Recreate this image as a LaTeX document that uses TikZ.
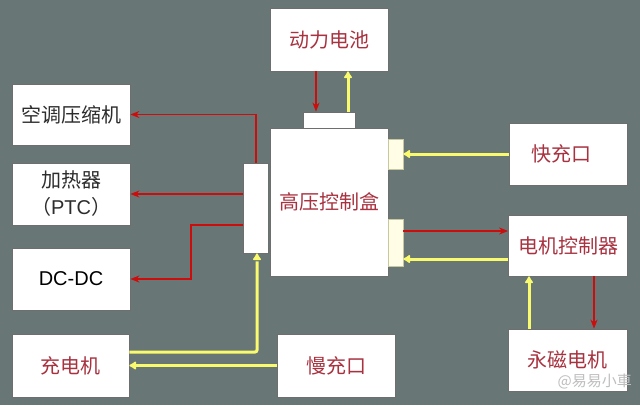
\documentclass[tikz,border=0pt]{standalone}
\usepackage{fontspec}
\setmainfont{Liberation Sans}
\newfontfamily\cjk{Noto Sans CJK SC}
\usetikzlibrary{arrows.meta,calc}
\definecolor{bg}{RGB}{104,118,118}
\definecolor{dred}{RGB}{168,50,64}
\definecolor{dgray}{RGB}{45,45,45}
\definecolor{ared}{RGB}{205,12,12}
\definecolor{ayel}{RGB}{250,250,110}
\definecolor{bord}{RGB}{110,110,110}
\definecolor{cream}{RGB}{255,253,230}
\definecolor{creambord}{RGB}{200,200,160}
\definecolor{wmgray}{RGB}{190,190,190}
\begin{document}
\begin{tikzpicture}[x=1pt,y=-1pt,
  box/.style={draw=bord, line width=0.8pt, fill=white, inner sep=0pt, align=center,
    font=\cjk\fontsize{20}{27}\selectfont, text=dred},
  conn/.style={draw=bord, line width=0.8pt, fill=white, inner sep=0pt},
  cconn/.style={draw=creambord, line width=0.8pt, fill=cream, inner sep=0pt},
  redarr/.style={draw=ared, line width=1.6pt, -{Stealth[length=9pt,width=7pt]}},
  yelarr/.style={draw=ayel, line width=3pt, -{Latex[length=8pt,width=10pt,round]}},
  yelline/.style={draw=ayel, line width=3pt, rounded corners=2pt}]
\fill[bg] (0,0) rectangle (640,405);
\useasboundingbox (0,0) rectangle (640,405);
% boxes
\node[box, minimum width=118pt, minimum height=63pt] (bat) at (329,39.5) {动力电池};
\node[conn, minimum width=52pt, minimum height=16pt] (tc) at (329,120) {};
\node[box, minimum width=118pt, minimum height=148pt] (hv) at (329,202) {高压控制盒};
\node[conn, minimum width=25pt, minimum height=90pt] (lc) at (255.5,208) {};
\node[cconn, minimum width=15pt, minimum height=30pt] (rc1) at (395.5,154) {};
\node[cconn, minimum width=15pt, minimum height=47pt] (rc2) at (395.5,242.5) {};
\node[box, text=dgray, minimum width=118pt, minimum height=61pt] (ac) at (71,114.5) {空调压缩机};
\node[box, text=dgray, minimum width=118pt, minimum height=62pt] (heat) at (71,194) {加热器\\{\cjk （}{\rmfamily PTC}{\cjk ）}};
\node[box, text=black, font=\rmfamily\fontsize{20}{24}\selectfont, minimum width=118pt, minimum height=62pt] (dcdc) at (71,279) {DC-DC};
\node[box, minimum width=117pt, minimum height=63pt] (chg) at (70.5,365.5) {充电机};
\node[box, minimum width=118pt, minimum height=63pt] (slow) at (336,365.5) {慢充口};
\node[box, minimum width=118pt, minimum height=62pt] (fast) at (568,154) {\hspace*{-14pt}快充口};
\node[box, minimum width=119pt, minimum height=61pt] (mc) at (568,245.5) {电机控制器};
\node[box, minimum width=119pt, minimum height=62pt] (mot) at (567.5,360) {永磁电机};
\node[text=wmgray, font=\cjk\fontsize{15}{16}\selectfont, anchor=east, inner sep=0pt] (wm) at (632,381) {@易易小車};
% connectors
\draw[redarr] ($(bat.south)+(-13,0)$) -- ($(tc.north)+(-13,0)$);
\draw[yelarr] ($(tc.north)+(19,0)$) -- ($(bat.south)+(19,0)$);
\coordinate (a1) at ($(lc.north)+(0.5,0)$);
\draw[redarr] (a1) -- (a1 |- ac.east) -- (ac.east);
\draw[redarr] (heat.east -| lc.west) -- (heat.east);
\coordinate (k1) at ($(lc.west)+(0,17)$);
\coordinate (k2) at (191,0);
\draw[redarr] (k1) -| (k2 |- dcdc.east) -- (dcdc.east);
\draw[yelline] ($(chg.east)+(0,-13.5)$) -| ($(lc.south)+(1.5,8)$);
\draw[yelarr] ($(lc.south)+(1.5,7)$) -- ($(lc.south)+(1.5,0)$);
\draw[yelarr] (slow.west) -- (chg.east);
\draw[yelarr] (fast.west) -- (rc1.east);
\coordinate (m1) at ($(rc2.east)+(0,-11.5)$);
\draw[redarr] (m1) -- (m1 -| mc.west);
\coordinate (m2) at ($(mc.west)+(0,13.5)$);
\draw[yelarr] (m2) -- (m2 -| rc2.east);
\draw[yelarr] ($(mot.north)+(-38.5,0)$) -- ($(mc.south)+(-39,0)$);
\draw[redarr] ($(mc.south)+(26,0)$) -- ($(mot.north)+(26.5,0)$);
\end{tikzpicture}
\end{document}
